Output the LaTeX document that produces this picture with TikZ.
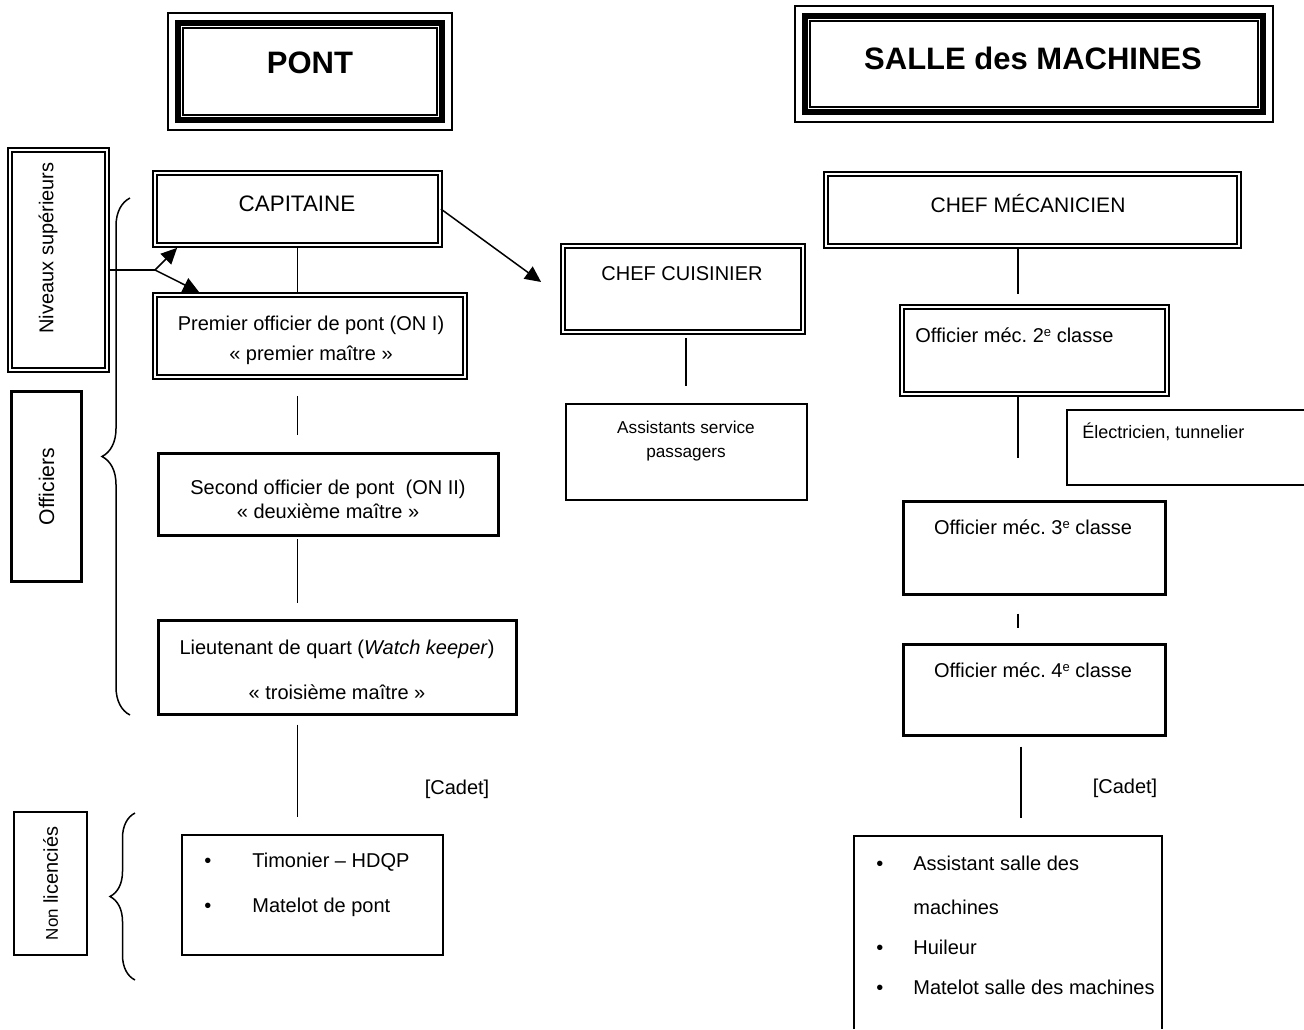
\documentclass[tikz,border=0pt]{standalone}
\usepackage{fontspec}
\setmainfont{Liberation Sans}
\usetikzlibrary{arrows.meta,decorations.pathreplacing}
\frenchspacing
\newcommand\exposant[1]{\raisebox{0.55ex}{\fontsize{6.5}{7}\selectfont #1}}

\begin{document}
\begin{tikzpicture}[x=0.5pt,y=-0.5pt,>={Triangle[length=8pt,width=7.5pt]},
    every node/.style={inner sep=0pt,font=\fontsize{10}{12}\selectfont},
    titre/.style={font=\fontsize{15.5}{18}\selectfont\bfseries},
    triplebox/.style={draw,line width=3pt},
    dbox/.style={draw,double,line width=0.9pt,double distance=1.4pt},
    tbox/.style={draw,line width=1.6pt},
    fbox/.style={draw,line width=0.65pt},
    lien/.style={line width=0.75pt},
    petit/.style={font=\fontsize{8.6}{12}\selectfont},
    puce/.style={anchor=west,execute at begin node={\makebox[#1][l]{\textbullet}}},
    accolade/.style={line width=0.75pt,decorate,decoration={brace,amplitude=#1}}]

\useasboundingbox (0,0) rectangle (1304,1029);

% en-tetes
\node[triplebox,minimum width=132pt,minimum height=48.5pt] (pont) at (310,71.5) {};
\node[triplebox,minimum width=229pt,minimum height=48pt] (salle) at (1034,64) {};
\foreach \b in {pont,salle}{
  \draw[line width=0.8pt] ([shift={(-7,-7)}]\b.north west) rectangle ([shift={(7,7)}]\b.south east);
  \draw[line width=0.8pt] ([shift={(8,8)}]\b.north west) rectangle ([shift={(-8,-8)}]\b.south east);
}
\node[titre] (pont-t) at (310,63) {PONT};
\node[titre] (salle-t) at (1033,58) {SALLE des MACHINES};

% niveaux
\node[dbox,minimum width=48.5pt,minimum height=110pt] (niv) at (58.5,260) {};
\node[rotate=90] (niv-t) at (48,248) {Niveaux supérieurs};
\node[tbox,rotate=90,minimum width=95pt,minimum height=35pt,font=\fontsize{10.6}{12}\selectfont] (offi) at (46.5,486.5) {Officiers};
\node[fbox,rotate=90,minimum width=71.5pt,minimum height=36.5pt] (nonl) at (50.5,883.5) {{\fontsize{8.5}{10}\selectfont Non} licenciés};
\draw[accolade=14pt] (130,715) -- (130,198);
\draw[accolade=12.5pt] (135,980) -- (135,813);

% pont
\node[dbox,minimum width=142.5pt,minimum height=36pt] (capt) at (297.5,209) {};
\node[font=\fontsize{11.2}{13}\selectfont] (capt-t) at (297,204) {CAPITAINE};
\node[dbox,minimum width=155pt,minimum height=41pt] (prem) at (310,336) {};
\node[align=center] (prem-t) at (311,340) {Premier officier de pont (ON I)\\[3pt]« premier maître »};
\node[tbox,minimum width=170pt,minimum height=41pt] (sec) at (328.5,494.5) {};
\node[align=center] (sec-t) at (328,499) {Second officier de pont\ \ (ON II)\\« deuxième maître »};
\node[tbox,minimum width=179pt,minimum height=47pt] (lieu) at (337.5,667.5) {};
\node[align=center] (lieu-t) at (337,670) {Lieutenant de quart (\textit{Watch keeper})\\[10.5pt]« troisième maître »};
\node (cadet1) at (457,789) {[Cadet]};
\node[fbox,minimum width=130.5pt,minimum height=60pt] (timo) at (312.5,895) {};
\node[puce=24pt] (timo-1) at (204,862) {Timonier – HDQP};
\node[puce=24pt] (timo-2) at (204,907) {Matelot de pont};

% cuisine
\node[dbox,minimum width=120pt,minimum height=43pt] (cuis) at (683,289) {};
\node (cuis-t) at (682,274) {CHEF CUISINIER};
\node[fbox,minimum width=120.5pt,minimum height=48pt] (assi) at (686.5,452) {};
\node[petit,align=center] (assi-t) at (686,441) {Assistants service\\passagers};

% machines
\node[dbox,minimum width=206.5pt,minimum height=36pt] (meca) at (1032.5,210) {};
\node[font=\fontsize{10.5}{12}\selectfont] (meca-t) at (1028,203) {CHEF MÉCANICIEN};
\node[dbox,minimum width=132.5pt,minimum height=43.5pt] (off2) at (1034.5,350.5) {};
\node[anchor=west] (off2-t) at (915,335) {Officier méc. 2\exposant{e} classe};
\draw[fbox] (1304,410) -- (1067,410) -- (1067,485) -- (1304,485);
\node[anchor=west,font=\fontsize{9}{11}\selectfont] (elec-t) at (1082,432) {Électricien, tunnelier};
\node[tbox,minimum width=131pt,minimum height=46.5pt] (off3) at (1034.5,548) {};
\node (off3-t) at (1033,527) {Officier méc. 3\exposant{e} classe};
\node[tbox,minimum width=131pt,minimum height=45.5pt] (off4) at (1034.5,690) {};
\node (off4-t) at (1033,670) {Officier méc. 4\exposant{e} classe};
\node (cadet2) at (1125,788) {[Cadet]};
\draw[fbox] (854,1029) -- (854,836) -- (1162,836) -- (1162,1029);
\coordinate (mach-top) at (1021,836);
\node[puce=18.5pt] (mach-1) at (876,863) {Assistant salle des};
\node[anchor=west] (mach-1b) at (913,907) {machines};
\node[puce=18.5pt] (mach-2) at (876,947) {Huileur};
\node[puce=18.5pt] (mach-3) at (876,987) {Matelot salle des machines};

% liens
\draw[lien] (capt.south) -- (capt.south |- prem.north);
\draw[lien,shorten <=9pt,shorten >=8.25pt] (capt.south |- prem.south) -- (capt.south |- sec.north);
\draw[lien,shorten <=1pt,shorten >=7.75pt] (sec.south -| capt.south) -- (lieu.north -| capt.south);
\draw[lien,shorten <=4.25pt,shorten >=8.5pt] (lieu.south -| capt.south) -- (timo.north -| capt.south);
\draw[lien,shorten <=2.5pt,shorten >=8.5pt] ([xshift=1.5pt]cuis.south) -- ([xshift=1.5pt]cuis.south |- assi.north);
\draw[lien,shorten >=6pt] ([xshift=-7.25pt]meca.south) -- ([xshift=-7.25pt]meca.south |- off2.north);
\draw[lien,shorten >=20.75pt] ([xshift=-8.25pt]off2.south) -- ([xshift=-8.25pt]off2.south |- off3.north);
\draw[lien,shorten <=8.75pt,shorten >=7.25pt] ([xshift=-8.25pt]off3.south) -- ([xshift=-8.25pt]off3.south |- off4.north);
\draw[lien,shorten <=4.75pt,shorten >=9pt] (off4.south -| mach-top) -- (mach-top);

% fleches
\coordinate (fourche) at (155,270);
\draw[lien] (niv.east |- fourche) -- (fourche);
\draw[lien,->] (fourche) -- ([shift={(23,2)}]capt.south west);
\draw[lien,->] (fourche) -- ([shift={(45,-2)}]prem.north west);
\draw[lien,->] (capt.east) -- ([shift={(-21,-7)}]cuis.west);
\end{tikzpicture}
\end{document}
